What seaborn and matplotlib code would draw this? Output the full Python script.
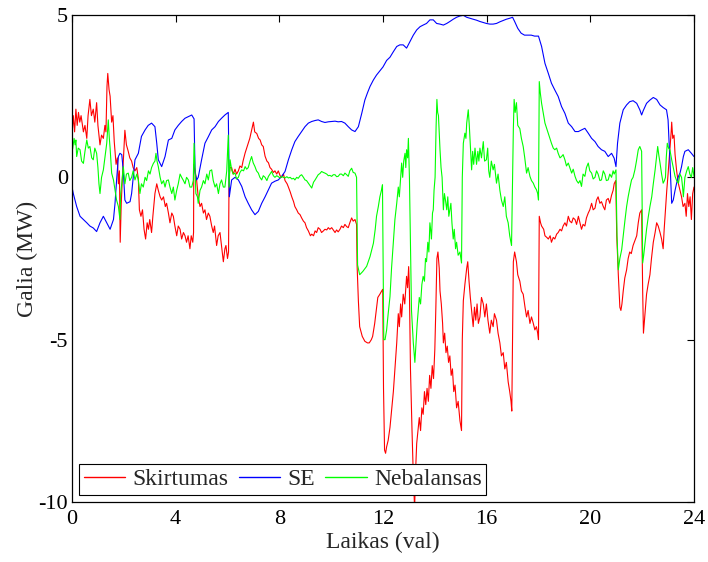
import pandas as pd
import seaborn as sns
import matplotlib.pyplot as plt

sns.set_theme(style="white")
plt.rcParams["font.family"] = ["Liberation Serif", "DejaVu Serif"]
plt.rcParams["axes.unicode_minus"] = False

# Skirtumas (red)
t_skirt = [0.0, 0.05, 0.1, 0.15, 0.2, 0.25, 0.3, 0.35, 0.44, 0.5, 0.57, 0.62, 0.69, 0.75, 0.82, 0.88, 0.95, 1.0,
           1.08, 1.14, 1.21, 1.27, 1.31, 1.35, 1.38, 1.43, 1.47, 1.53, 1.58, 1.63, 1.7, 1.75, 1.79, 1.83, 1.86, 1.9,
           1.95, 1.98, 2.04, 2.1, 2.17, 2.23, 2.3, 2.36, 2.43, 2.5, 2.56, 2.6, 2.66, 2.72, 2.78, 2.84, 2.9, 2.95,
           3.0, 3.07, 3.12, 3.2, 3.27, 3.33, 3.4, 3.46, 3.53, 3.6, 3.65, 3.72, 3.78, 3.85, 3.91, 3.97, 4.04, 4.1,
           4.17, 4.23, 4.3, 4.36, 4.42, 4.48, 4.55, 4.6, 4.66, 4.69, 4.7, 4.75, 4.81, 4.87, 4.94, 5.0, 5.07, 5.13,
           5.19, 5.26, 5.32, 5.39, 5.45, 5.5, 5.58, 5.64, 5.71, 5.78, 5.84, 5.9, 5.94, 6.0, 6.04, 6.06, 6.1, 6.16,
           6.22, 6.29, 6.35, 6.42, 6.48, 6.55, 6.6, 6.68, 6.74, 6.8, 6.86, 6.93, 7.0, 7.05, 7.13, 7.2, 7.26, 7.32,
           7.38, 7.45, 7.52, 7.58, 7.64, 7.7, 7.77, 7.83, 7.9, 7.96, 8.03, 8.09, 8.16, 8.22, 8.3, 8.35, 8.42, 8.48,
           8.55, 8.6, 8.67, 8.73, 8.8, 8.86, 8.93, 8.99, 9.05, 9.12, 9.2, 9.25, 9.32, 9.38, 9.44, 9.5, 9.57, 9.63,
           9.7, 9.76, 9.83, 9.89, 9.95, 10.02, 10.08, 10.15, 10.21, 10.27, 10.34, 10.4, 10.47, 10.53, 10.6, 10.66,
           10.72, 10.79, 10.85, 10.92, 10.98, 11.0, 11.05, 11.1, 11.2, 11.3, 11.4, 11.47, 11.55, 11.6, 11.68, 11.74,
           11.8, 11.88, 11.95, 11.99, 12.02, 12.06, 12.1, 12.14, 12.2, 12.27, 12.33, 12.4, 12.46, 12.53, 12.59,
           12.63, 12.68, 12.72, 12.78, 12.84, 12.91, 12.95, 12.99, 13.02, 13.06, 13.12, 13.17, 13.22, 13.26, 13.3,
           13.35, 13.4, 13.45, 13.5, 13.55, 13.6, 13.65, 13.7, 13.75, 13.8, 13.85, 13.9, 13.95, 14.0, 14.04, 14.08,
           14.12, 14.17, 14.2, 14.25, 14.3, 14.33, 14.38, 14.43, 14.48, 14.53, 14.58, 14.63, 14.68, 14.73, 14.78,
           14.84, 14.9, 14.97, 15.03, 15.06, 15.1, 15.16, 15.23, 15.27, 15.32, 15.37, 15.42, 15.48, 15.53, 15.58,
           15.63, 15.68, 15.74, 15.8, 15.87, 15.93, 15.99, 16.05, 16.12, 16.18, 16.25, 16.3, 16.38, 16.44, 16.51,
           16.57, 16.64, 16.7, 16.76, 16.83, 16.89, 16.94, 16.97, 17.0, 17.03, 17.08, 17.15, 17.2, 17.28, 17.34,
           17.41, 17.48, 17.54, 17.6, 17.67, 17.73, 17.8, 17.86, 17.92, 17.97, 18.0, 18.03, 18.08, 18.12, 18.2,
           18.25, 18.32, 18.38, 18.45, 18.5, 18.57, 18.63, 18.7, 18.76, 18.83, 18.89, 18.95, 19.02, 19.08, 19.15,
           19.21, 19.28, 19.34, 19.41, 19.47, 19.54, 19.6, 19.66, 19.72, 19.79, 19.85, 19.92, 19.98, 20.05, 20.11,
           20.18, 20.24, 20.3, 20.37, 20.43, 20.5, 20.56, 20.62, 20.69, 20.75, 20.82, 20.88, 20.92, 20.98, 21.02,
           21.08, 21.14, 21.18, 21.22, 21.27, 21.33, 21.4, 21.46, 21.52, 21.58, 21.65, 21.72, 21.79, 21.85, 21.91,
           21.98, 22.02, 22.05, 22.1, 22.17, 22.23, 22.3, 22.36, 22.43, 22.5, 22.56, 22.62, 22.69, 22.75, 22.81,
           22.85, 22.9, 22.95, 23.0, 23.07, 23.12, 23.14, 23.18, 23.23, 23.27, 23.33, 23.4, 23.46, 23.52, 23.58,
           23.65, 23.7, 23.75, 23.8, 23.85, 23.9, 23.95, 24.0]
skirtumas = [1.3, 1.9, 1.4, 2.1, 1.6, 2.0, 1.7, 1.9, 1.4, 1.6, 1.2, 1.9, 2.4, 1.9, 2.1, 1.7, 2.3, 1.6,
             1.0, 1.3, 1.2, 1.6, 1.4, 2.8, 3.2, 2.7, 2.5, 1.7, 1.9, 1.1, 0.4, 0.6, -0.2, 0.2, -2.0, -0.8,
             0.1, 0.5, 1.45, 1.0, 0.8, 0.6, 0.5, 0.3, 0.2, 0.3, -0.05, -1.0, -1.2, -1.0, -1.6, -1.9, -1.4, -1.6,
             -1.3, -1.7, -1.2, -0.5, -0.2, -0.4, -0.6, -0.7, -0.6, -0.9, -0.8, -1.1, -1.4, -1.1, -1.2, -1.5, -1.8, -1.5,
             -1.6, -1.9, -1.7, -1.8, -2.0, -1.8, -2.2, -1.8, -2.0, -1.7, 0.4, 0.2, -0.1, -0.6, -0.9, -0.8, -1.1, -1.0,
             -1.3, -1.1, -1.2, -1.5, -1.7, -1.5, -2.1, -1.8, -1.7, -2.2, -2.6, -2.2, -2.1, -2.5, -2.3, 0.0, 0.3, 0.3,
             0.1, 0.25, 0.1, 0.2, 0.35, 0.3, 0.5, 0.75, 0.9, 1.05, 1.2, 1.45, 1.7, 1.4, 1.35, 1.2, 1.15, 1.0,
             0.95, 0.65, 0.5, 0.45, 0.3, 0.25, 0.15, 0.2, 0.1, 0.2, 0.05, 0.0, 0.1, -0.1, -0.2, -0.3, -0.45, -0.6,
             -0.75, -0.9, -1.0, -1.1, -1.15, -1.25, -1.35, -1.4, -1.55, -1.65, -1.8, -1.75, -1.8, -1.65, -1.7, -1.55, -1.6, -1.7,
             -1.65, -1.6, -1.62, -1.55, -1.6, -1.55, -1.62, -1.7, -1.62, -1.68, -1.6, -1.5, -1.55, -1.45, -1.52, -1.55,
             -1.4, -1.25, -1.35, -1.3, -1.45, -2.7, -3.8, -4.6, -4.9, -5.05, -5.1, -5.1, -5.0, -4.9, -4.5, -4.1,
             -3.7, -3.6, -3.5, -3.45, -6.5, -8.4, -8.5, -8.3, -8.1, -7.7, -7.2, -6.6, -5.9, -5.1, -4.2,
             -4.6, -3.9, -4.3, -3.6, -3.9, -3.05, -3.4, -2.75, -3.5, -5.9, -7.8, -9.2, -10.2, -9.0, -8.2,
             -7.8, -7.4, -7.8, -7.1, -7.3, -6.6, -7.0, -6.5, -6.9, -6.1, -6.5, -5.8, -6.2, -5.3, -4.0, -2.5,
             -2.3, -2.8, -3.5, -3.9, -4.5, -5.1, -4.8, -5.4, -5.2, -5.7, -5.5, -6.1, -5.9, -6.6, -6.4,
             -7.1, -6.9, -7.5, -7.8, -5.0, -3.8, -3.3, -2.8, -2.6, -3.2, -3.7, -4.1, -4.6, -4.0, -4.4,
             -3.9, -4.5, -4.3, -3.7, -3.9, -4.3, -3.9, -4.4, -4.8, -4.4, -4.6, -4.2, -4.4, -4.8, -5.1,
             -5.5, -5.4, -5.9, -5.7, -6.3, -6.6, -6.9, -7.2, -5.0, -2.6, -2.3, -2.6, -3.0, -3.2, -3.5,
             -3.6, -4.0, -4.3, -4.1, -4.5, -4.3, -4.5, -4.7, -4.6, -4.8, -5.0, -1.2, -1.4, -1.5, -1.6,
             -1.8, -1.85, -1.9, -1.8, -2.0, -1.85, -1.9, -1.75, -1.7, -1.6, -1.65, -1.5, -1.4, -1.5, -1.2,
             -1.35, -1.4, -1.25, -1.3, -1.45, -1.2, -1.4, -1.6, -1.45, -1.5, -1.25, -1.1, -1.0, -0.8, -1.0,
             -0.95, -0.7, -0.6, -0.8, -0.75, -0.9, -1.0, -0.7, -0.65, -0.8, -0.55, -0.4, -0.2, -0.1, -1.8,
             -3.0, -4.0, -4.1, -3.9, -3.5, -3.1, -2.85, -2.5, -2.3, -2.35, -2.1, -1.95, -1.8, -1.4, -1.1,
             -1.0, -3.5, -4.8, -4.3, -3.6, -3.3, -3.0, -2.5, -2.0, -1.7, -1.4, -1.5, -1.7, -1.9, -2.2,
             -1.6, -1.0, -0.4, 0.1, 0.85, 1.4, 1.7, 1.2, 1.3, 0.7, 0.2, -0.2, -0.4, -0.6, -0.9,
             -0.8, -1.2, -0.5, -0.9, -0.6, -1.3, -0.5, -0.3]

# SE (blue)
t_se = [0.0, 0.05, 0.18, 0.31, 0.44, 0.57, 0.69, 0.82, 0.95, 1.08, 1.21, 1.34, 1.47, 1.6, 1.66, 1.72, 1.79, 1.85,
        1.92, 1.98, 2.04, 2.11, 2.24, 2.3, 2.43, 2.56, 2.68, 2.82, 2.94, 3.07, 3.2, 3.27, 3.33, 3.46, 3.59, 3.72,
        3.85, 3.97, 4.1, 4.23, 4.36, 4.49, 4.62, 4.71, 4.75, 4.81, 4.87, 5.0, 5.13, 5.26, 5.39, 5.52, 5.65, 5.77,
        5.9, 6.03, 6.07, 6.16, 6.29, 6.42, 6.55, 6.68, 6.8, 6.93, 7.06, 7.19, 7.32, 7.45, 7.58, 7.7, 7.83, 7.96,
        8.09, 8.22, 8.35, 8.48, 8.6, 8.73, 8.86, 8.99, 9.12, 9.25, 9.38, 9.5, 9.63, 9.76, 9.89, 10.02, 10.15,
        10.27, 10.4, 10.53, 10.66, 10.79, 10.92, 11.05, 11.18, 11.3, 11.4, 11.5, 11.63, 11.75, 11.88, 12.0, 12.14,
        12.27, 12.4, 12.53, 12.65, 12.78, 12.91, 13.04, 13.17, 13.3, 13.43, 13.55, 13.68, 13.81, 13.94, 14.07,
        14.2, 14.33, 14.46, 14.58, 14.71, 14.84, 14.97, 15.1, 15.23, 15.35, 15.48, 15.61, 15.74, 15.87, 15.99,
        16.12, 16.25, 16.38, 16.51, 16.64, 16.76, 16.89, 17.0, 17.08, 17.2, 17.33, 17.46, 17.59, 17.72, 17.85,
        18.0, 18.12, 18.25, 18.38, 18.5, 18.63, 18.76, 18.89, 19.02, 19.15, 19.28, 19.41, 19.54, 19.66, 19.79,
        19.92, 20.05, 20.18, 20.3, 20.43, 20.56, 20.69, 20.82, 20.92, 20.99, 21.05, 21.14, 21.27, 21.4, 21.52,
        21.65, 21.79, 21.91, 21.98, 22.04, 22.17, 22.3, 22.43, 22.56, 22.69, 22.81, 22.94, 23.0, 23.07, 23.14,
        23.2, 23.27, 23.33, 23.4, 23.46, 23.52, 23.59, 23.65, 23.78, 23.9, 24.0]
se = [-0.3, -0.5, -0.9, -1.2, -1.3, -1.4, -1.5, -1.56, -1.67, -1.4, -1.2, -1.4, -1.6, -1.3, -0.8, -0.1, 0.64, 0.74,
      0.7, 0.2, -0.7, -0.8, -0.75, -0.5, 0.54, 0.74, 1.26, 1.46, 1.6, 1.67, 1.56, 1.05, 0.54, 0.33, 0.64, 1.15,
      1.2, 1.46, 1.6, 1.72, 1.82, 1.87, 1.92, 1.8, 0.13, -0.08, 0.0, 0.54, 1.05, 1.25, 1.46, 1.56, 1.72, 1.82,
      1.92, 2.0, -0.6, -0.08, 0.0, -0.08, -0.28, -0.6, -0.8, -1.0, -1.15, -1.05, -0.8, -0.6, -0.38, -0.18, -0.12, -0.08,
      0.03, 0.18, 0.54, 0.85, 1.1, 1.26, 1.41, 1.56, 1.67, 1.72, 1.75, 1.77, 1.72, 1.69, 1.71, 1.72, 1.73,
      1.71, 1.72, 1.67, 1.56, 1.46, 1.41, 1.56, 1.97, 2.38, 2.6, 2.8, 3.0, 3.15, 3.28, 3.4, 3.6,
      3.7, 3.87, 4.03, 4.08, 4.08, 3.98, 4.18, 4.38, 4.54, 4.64, 4.69, 4.74, 4.85, 4.85, 4.74,
      4.72, 4.69, 4.74, 4.8, 4.87, 4.93, 4.97, 4.99, 4.93, 4.9, 4.87, 4.84, 4.8, 4.77, 4.74,
      4.72, 4.72, 4.74, 4.79, 4.83, 4.87, 4.9, 4.93, 4.8, 4.59, 4.44, 4.38, 4.38, 4.38, 4.35,
      4.35, 4.03, 3.51, 3.2, 2.9, 2.69, 2.49, 2.18, 1.97, 1.67, 1.56, 1.41, 1.41, 1.46, 1.51,
      1.36, 1.2, 1.1, 0.95, 0.85, 0.8, 0.64, 0.74, 0.59, 0.33, 1.05, 1.67, 2.08, 2.23, 2.33,
      2.36, 2.28, 2.08, 1.92, 2.05, 2.28, 2.38, 2.46, 2.4, 2.23, 2.15, 2.08, 1.77, 0.54, -0.8,
      -0.7, -0.4, -0.18, 0.03, 0.13, 0.33, 0.64, 0.8, 0.85, 0.74, 0.64]

# Nebalansas (green)
t_nebal = [0.0, 0.03, 0.08, 0.12, 0.15, 0.18, 0.24, 0.31, 0.37, 0.44, 0.5, 0.57, 0.63, 0.69, 0.76, 0.82, 0.88, 0.95,
           1.0, 1.04, 1.08, 1.14, 1.21, 1.27, 1.34, 1.4, 1.44, 1.47, 1.53, 1.6, 1.66, 1.72, 1.79, 1.85, 1.88, 1.92,
           1.98, 2.04, 2.1, 2.17, 2.23, 2.3, 2.36, 2.43, 2.5, 2.56, 2.62, 2.68, 2.75, 2.82, 2.88, 2.95, 3.01, 3.07,
           3.14, 3.2, 3.24, 3.28, 3.33, 3.4, 3.46, 3.53, 3.59, 3.65, 3.72, 3.78, 3.85, 3.91, 3.97, 4.04, 4.1, 4.17,
           4.23, 4.3, 4.36, 4.42, 4.49, 4.55, 4.62, 4.68, 4.71, 4.75, 4.78, 4.84, 4.87, 4.94, 5.0, 5.07, 5.13, 5.2,
           5.26, 5.32, 5.39, 5.45, 5.52, 5.58, 5.65, 5.71, 5.77, 5.84, 5.9, 5.97, 6.03, 6.06, 6.1, 6.16, 6.22, 6.29,
           6.35, 6.42, 6.48, 6.55, 6.62, 6.68, 6.74, 6.8, 6.87, 6.93, 6.99, 7.06, 7.12, 7.19, 7.25, 7.32, 7.38, 7.45,
           7.52, 7.58, 7.64, 7.7, 7.77, 7.83, 7.9, 7.96, 8.03, 8.09, 8.16, 8.22, 8.29, 8.35, 8.42, 8.48, 8.55, 8.6,
           8.67, 8.73, 8.8, 8.86, 8.93, 8.99, 9.05, 9.12, 9.18, 9.25, 9.32, 9.38, 9.44, 9.5, 9.57, 9.63, 9.7, 9.76,
           9.83, 9.89, 9.95, 10.02, 10.08, 10.15, 10.21, 10.27, 10.34, 10.4, 10.47, 10.53, 10.6, 10.66, 10.72, 10.79,
           10.85, 10.92, 10.98, 11.02, 11.1, 11.22, 11.37, 11.5, 11.63, 11.7, 11.75, 11.82, 11.88, 11.94, 11.98,
           12.03, 12.08, 12.14, 12.2, 12.27, 12.33, 12.4, 12.46, 12.53, 12.59, 12.63, 12.68, 12.72, 12.76, 12.8,
           12.85, 12.88, 12.91, 12.95, 12.98, 13.02, 13.06, 13.1, 13.17, 13.23, 13.28, 13.32, 13.36, 13.4, 13.45,
           13.5, 13.55, 13.6, 13.64, 13.68, 13.73, 13.77, 13.81, 13.85, 13.87, 13.91, 13.94, 13.97, 14.01, 14.05,
           14.08, 14.11, 14.14, 14.18, 14.2, 14.24, 14.28, 14.33, 14.37, 14.41, 14.46, 14.5, 14.54, 14.58, 14.62,
           14.66, 14.71, 14.75, 14.8, 14.84, 14.9, 14.97, 15.03, 15.06, 15.1, 15.16, 15.2, 15.23, 15.29, 15.33,
           15.37, 15.42, 15.46, 15.5, 15.55, 15.61, 15.66, 15.7, 15.74, 15.8, 15.87, 15.92, 15.99, 16.04, 16.08,
           16.12, 16.18, 16.25, 16.3, 16.38, 16.44, 16.51, 16.57, 16.64, 16.7, 16.76, 16.83, 16.89, 16.96, 17.0,
           17.03, 17.06, 17.1, 17.15, 17.2, 17.28, 17.34, 17.41, 17.47, 17.54, 17.6, 17.67, 17.73, 17.8, 17.86,
           17.92, 17.97, 18.0, 18.03, 18.07, 18.12, 18.18, 18.25, 18.32, 18.38, 18.44, 18.5, 18.57, 18.63, 18.7,
           18.76, 18.83, 18.89, 18.95, 19.02, 19.08, 19.15, 19.21, 19.28, 19.34, 19.41, 19.47, 19.54, 19.6, 19.66,
           19.72, 19.79, 19.85, 19.92, 19.98, 20.05, 20.11, 20.18, 20.24, 20.3, 20.37, 20.43, 20.5, 20.56, 20.62,
           20.69, 20.75, 20.82, 20.88, 20.92, 20.99, 21.03, 21.08, 21.14, 21.21, 21.27, 21.34, 21.4, 21.46, 21.52,
           21.59, 21.65, 21.72, 21.78, 21.85, 21.91, 21.98, 22.02, 22.06, 22.11, 22.17, 22.24, 22.3, 22.37, 22.43,
           22.5, 22.55, 22.6, 22.64, 22.69, 22.75, 22.81, 22.86, 22.9, 22.93, 22.97, 23.02, 23.07, 23.14, 23.2,
           23.27, 23.33, 23.4, 23.46, 23.52, 23.56, 23.59, 23.63, 23.65, 23.72, 23.78, 23.84, 23.9, 23.95, 24.0]
nebalansas = [0.8, 0.9, 1.2, 1.0, 1.15, 0.64, 0.9, 0.85, 0.5, 0.43, 0.8, 1.15, 0.9, 0.95, 0.6, 0.54, 0.9, 0.74,
              0.3, -0.2, -0.5, 0.0, 0.23, 0.6, 1.05, 1.77, 1.2, 0.9, 0.13, -0.08, -0.4, -0.7, -0.9, -1.3, -0.5, -0.2,
              0.33, -0.2, 0.1, 0.13, -0.1, 0.0, 0.2, -0.08, 0.1, -0.08, -0.5, -0.2, -0.3, 0.0, -0.1, 0.2, 0.1, 0.3,
              0.43, 0.5, 0.74, 0.5, 0.33, 0.0, -0.2, -0.1, -0.3, -0.1, -0.08, -0.3, -0.5, -0.3, -0.7, -0.4, -0.2, 0.1,
              0.0, -0.1, -0.2, 0.0, -0.08, -0.3, -0.3, -0.1, 1.05, 0.2, -0.5, -0.6, -0.8, -0.4, -0.3, -0.1, -0.2, 0.1,
              -0.08, 0.2, 0.23, -0.1, -0.3, -0.2, -0.5, -0.2, -0.08, -0.3, -0.3, 0.2, 1.3, -0.3, 0.54, 0.23, 0.1, 0.13,
              -0.05, 0.0, 0.15, 0.23, 0.2, 0.33, 0.25, 0.3, 0.5, 0.64, 0.45, 0.33, 0.2, 0.13, 0.0, -0.08, 0.05, 0.0,
              -0.1, 0.03, 0.1, 0.18, 0.05, 0.0, 0.05, 0.02, -0.02, 0.03, 0.0, -0.02, 0.02, -0.02, 0.0, -0.05, -0.03, -0.08,
              0.0, -0.03, 0.05, 0.08, 0.0, -0.08, -0.1, -0.18, -0.25, -0.33, -0.15, -0.08, 0.0, 0.08, 0.12, 0.18, 0.15, 0.13,
              0.1, 0.05, 0.06, 0.03, 0.08, 0.08, 0.02, 0.03, 0.1, 0.1, 0.05, 0.13, 0.08, 0.03, 0.2, 0.28,
              0.15, 0.13, 0.0, -2.7, -3.0, -2.9, -2.74, -2.44, -2.03, -1.6, -1.2, -0.9, -0.6, -0.4, -0.23,
              -5.0, -5.0, -4.7, -4.2, -3.67, -2.8, -2.0, -1.3, -0.8, -0.3, -0.6, 0.0, 0.44, 0.0, 0.5,
              0.74, 0.3, 0.85, 0.6, 1.2, 0.0, -2.0, -4.1, -5.1, -5.7, -5.0, -4.5, -4.1, -3.7, -3.9,
              -3.3, -3.05, -3.2, -2.5, -2.6, -2.0, -2.3, -1.4, -1.7, -1.9, -1.1, -1.0, -0.4, 0.0, 1.6,
              2.4, 2.0, 1.9, 1.2, 0.85, 0.3, 0.0, -1.0, -0.5, -0.7, -1.0, -0.6, -1.2, -1.0, -0.8,
              -1.4, -1.9, -1.6, -2.2, -2.0, -2.4, -2.3, -2.64, 0.0, 1.05, 1.36, 1.2, 1.67, 2.08, 1.6,
              1.0, 0.23, 0.8, 0.4, 0.9, 0.4, 0.8, 0.5, 0.9, 0.6, 1.1, 0.5, 0.54, 0.9, 0.2,
              0.0, 0.5, 0.23, 0.4, -0.18, 0.1, -0.4, -0.7, -0.9, -0.6, -1.2, -1.4, -1.8, -2.1, 0.0,
              1.5, 2.4, 2.0, 2.3, 1.6, 1.5, 1.2, 0.95, 0.6, 0.13, 0.3, 0.03, -0.1, -0.18, -0.3,
              -0.38, -0.5, -0.7, 2.95, 2.6, 2.28, 2.0, 1.67, 1.5, 1.36, 1.2, 1.05, 0.9, 0.85, 0.9,
              0.74, 0.6, 0.64, 0.7, 0.54, 0.35, 0.44, 0.3, 0.13, 0.25, 0.03, -0.1, -0.18, -0.1, -0.28,
              0.1, 0.03, 0.3, 0.44, 0.2, 0.13, -0.05, 0.0, 0.2, 0.1, -0.1, -0.08, 0.2, 0.1, -0.1,
              -0.08, 0.1, 0.0, 0.2, 0.1, 0.23, -1.8, -2.85, -2.5, -2.23, -1.8, -1.3, -0.9, -0.6, -0.35,
              -0.08, 0.0, 0.23, 0.5, 0.85, 0.95, 0.8, -2.64, -2.4, -2.03, -1.6, -1.2, -0.9, -0.6, -0.2,
              0.23, 0.6, 0.95, 0.7, 0.44, 0.1, -0.18, -0.1, 0.0, 0.6, 1.05, 0.9, 0.85, 0.54, 0.3,
              0.03, -0.1, -0.18, 0.1, 0.0, -0.3, -0.6, -0.2, 0.0, 0.2, 0.33, 0.1, 0.0, 0.3, 0.03]

series_names = ["Skirtumas", "SE", "Nebalansas"]
series_colors = ["#ff0000", "#0000ff", "#00ff00"]

df = pd.concat([
    pd.DataFrame({"t": t_skirt, "p": skirtumas, "serija": "Skirtumas"}),
    pd.DataFrame({"t": t_se, "p": se, "serija": "SE"}),
    pd.DataFrame({"t": t_nebal, "p": nebalansas, "serija": "Nebalansas"}),
], ignore_index=True)

fig = plt.figure(figsize=(7.08, 5.62), dpi=100)
ax = fig.add_axes([0.1017, 0.1068, 0.8785, 0.8665])
sns.lineplot(data=df, x="t", y="p", hue="serija", hue_order=series_names,
             palette=series_colors, estimator=None, sort=False, linewidth=0.8, ax=ax)

ax.set_xlim(0, 24)
ax.set_ylim(-10, 5)
ax.set_xticks(range(0, 25, 4))
ax.set_yticks([-10, -5, 0, 5])
ax.tick_params(direction="in", length=5, width=0.8, top=True, right=True,
               labelsize=16, pad=3, colors="black")
ax.tick_params(axis="x", pad=6)
for s in ax.spines.values():
    s.set_color("black")
    s.set_linewidth(0.9)
ax.set_xlabel("Laikas (val)", fontsize=17, labelpad=2)
ax.set_ylabel("Galia (MW)", fontsize=17, labelpad=0)

leg = ax.legend(loc="lower left", ncol=3, fontsize=17, frameon=True, fancybox=False,
                edgecolor="black", framealpha=1, borderpad=0.2, handlelength=1.75,
                handletextpad=0.3, columnspacing=0.45, borderaxespad=0.3)
leg.get_frame().set_linewidth(0.8)
for line in leg.get_lines():
    line.set_linewidth(1.0)

fig.savefig("out.png", dpi=100)
